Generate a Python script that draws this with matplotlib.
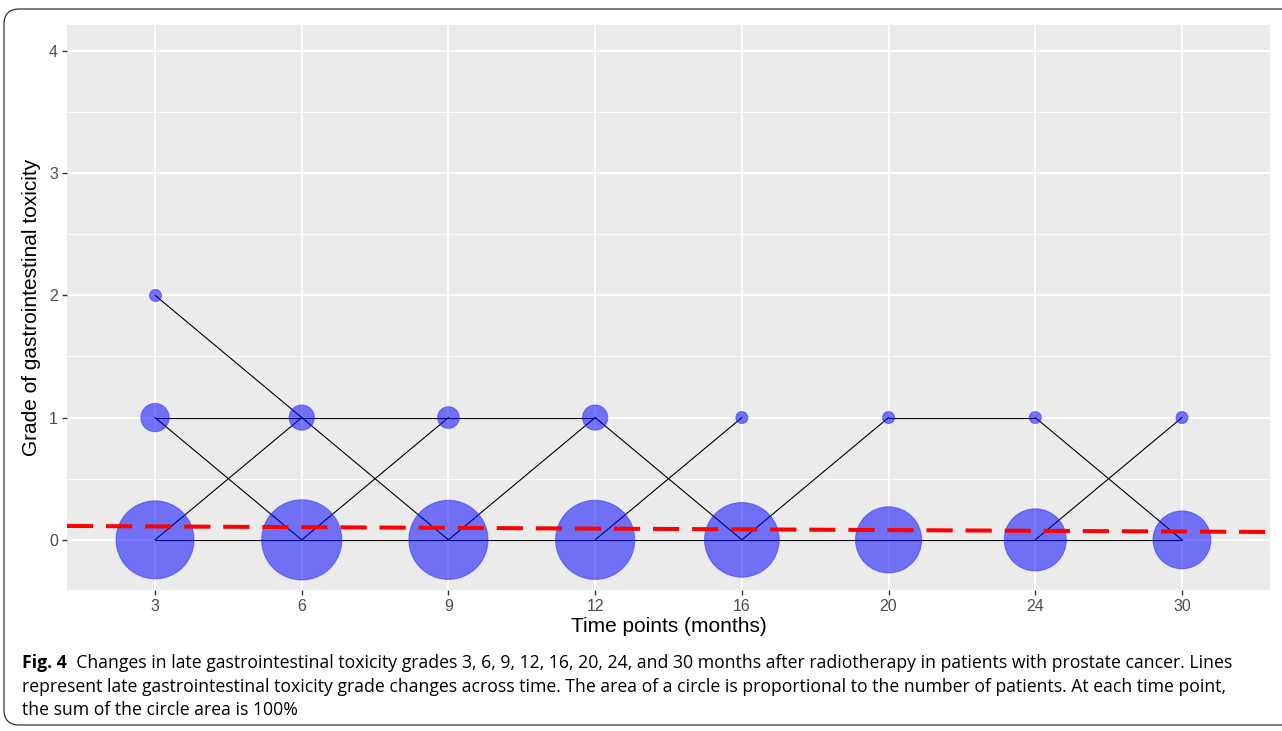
import numpy as np
import matplotlib
matplotlib.use('Agg')
import matplotlib.pyplot as plt
from matplotlib.patches import FancyBboxPatch

# time points (categorical axis)
time_labels = ['3', '6', '9', '12', '16', '20', '24', '30']

n_grade0 = [36, 38, 37, 37, 33, 26, 23, 20]
n_grade1 = [5, 4, 3, 4, 1, 1, 1, 1]
n_grade2 = [1, 0, 0, 0, 0, 0, 0, 0]

# grade changes between consecutive time points: (time index, grade from, grade to)
transitions = [
    (0, 2, 1), (0, 1, 1), (0, 1, 0), (0, 0, 1), (0, 0, 0),
    (1, 1, 1), (1, 1, 0), (1, 0, 1), (1, 0, 0),
    (2, 1, 1), (2, 0, 1), (2, 0, 0),
    (3, 1, 0), (3, 0, 1), (3, 0, 0),
    (4, 0, 1), (4, 0, 0),
    (5, 1, 1), (5, 0, 0),
    (6, 1, 0), (6, 0, 1), (6, 0, 0),
]

# linear trend (red dashed), on category position
trend_intercept = 0.116
trend_slope = -0.006

caption_bold = 'Fig. 4'
caption_lines = [
    '  Changes in late gastrointestinal toxicity grades 3, 6, 9, 12, 16, 20, 24, and 30 months after radiotherapy in patients with prostate cancer. Lines',
    'represent late gastrointestinal toxicity grade changes across time. The area of a circle is proportional to the number of patients. At each time point,',
    'the sum of the circle area is 100%',
]

plt.rcParams['font.family'] = ['Liberation Sans', 'DejaVu Sans']

fig = plt.figure(figsize=(12.82, 7.31), dpi=100)
ax = fig.add_axes([67 / 1282, 1 - 590 / 731, (1270 - 67) / 1282, (590 - 25) / 731])

xpos = np.arange(1, len(time_labels) + 1)

# trajectories
for i, g0, g1 in transitions:
    ax.plot([xpos[i], xpos[i + 1]], [g0, g1], color='black', lw=0.8, zorder=2)


def size_of(n):
    # diameter in px grows with sqrt of count (ggplot scale_size style)
    n = np.asarray(n, dtype=float)
    d = -1.2 + 13.2 * np.sqrt(n)
    return (d * 0.72) ** 2


for grade, counts in [(0, n_grade0), (1, n_grade1), (2, n_grade2)]:
    counts = np.array(counts)
    keep = counts > 0
    ax.scatter(xpos[keep], np.full(keep.sum(), grade), s=size_of(counts[keep]),
               color='#0000FF', alpha=0.52, edgecolors='#2a2aff', linewidths=0.8, zorder=3)

xx = np.array([0.4, len(time_labels) + 0.6])
ax.plot(xx, trend_intercept + trend_slope * xx, color='#FF0000', lw=2.9,
        dashes=(6.5, 3.2), zorder=4)

ax.set_xlim(0.4, len(time_labels) + 0.6)
ax.set_ylim(-0.41, 4.21)
ax.set_xticks(xpos)
ax.set_xticklabels(time_labels)
ax.set_yticks([0, 1, 2, 3, 4])
ax.set_yticks([0.5, 1.5, 2.5, 3.5], minor=True)

ax.set_facecolor('#EBEBEB')
for sp in ax.spines.values():
    sp.set_visible(False)
ax.grid(True, which='major', color='white', lw=1.3, zorder=0)
ax.grid(True, which='minor', axis='y', color='white', lw=0.65, zorder=0)
ax.set_axisbelow(True)
ax.tick_params(which='major', length=3.5, width=1.0, color='#333333', labelcolor='#4D4D4D',
               labelsize=11.5, pad=3)
ax.tick_params(which='minor', length=0)

ax.set_xlabel('Time points (months)', fontsize=15, color='black', labelpad=2)
ax.set_ylabel('Grade of gastrointestinal toxicity', fontsize=15, color='black', labelpad=6)

# caption
cap_font = ['Open Sans', 'DejaVu Sans']
cap_size = 12.7
t0 = fig.text(22 / 1282, 1 - 668 / 731, caption_bold, fontsize=cap_size, fontweight='bold',
              family=cap_font, va='baseline')
ax.annotate(caption_lines[0], xy=(1, 0), xycoords=t0, va='bottom', ha='left',
            fontsize=cap_size, family=cap_font, annotation_clip=False)
for k, line in enumerate(caption_lines[1:]):
    fig.text(22 / 1282, 1 - (668 + 23.5 * (k + 1)) / 731, line, fontsize=cap_size,
             family=cap_font, va='baseline')

# rounded frame
frame = FancyBboxPatch((4 / 1282, 6 / 731), 1.2, 1 - 15 / 731, transform=fig.transFigure,
                       boxstyle='round,pad=0,rounding_size=0.012', fill=False,
                       edgecolor='#333333', lw=0.9, mutation_aspect=1282 / 731)
fig.patches.append(frame)

fig.savefig('out.png', dpi=100)
